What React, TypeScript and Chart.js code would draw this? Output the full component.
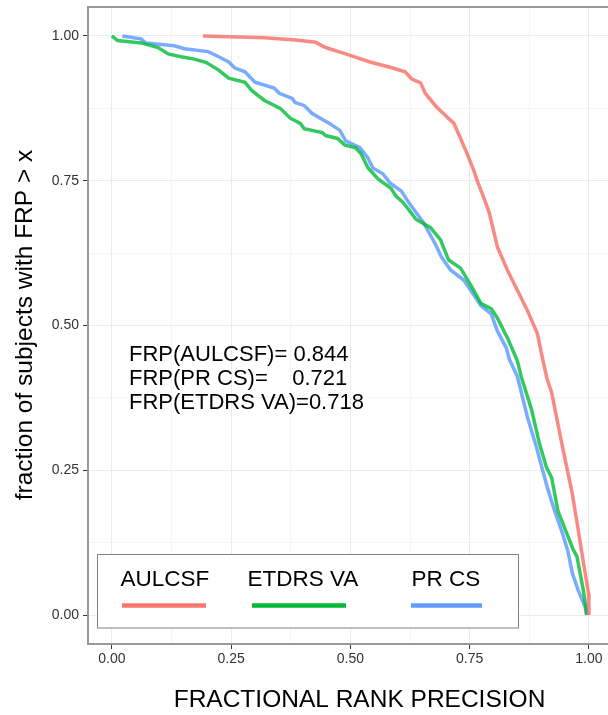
import React, { useEffect, useRef } from 'react';
import { Chart, registerables } from 'chart.js';

Chart.register(...registerables);

const FONT = "'Liberation Sans', Arial, Helvetica, sans-serif";

const seriesNames = ['AULCSF', 'ETDRS VA', 'PR CS'];
const legendColors = ['#F8766D', '#00BA38', '#619CFF'];
const lineColors = ['rgba(248,118,109,0.85)', 'rgba(0,186,56,0.8)', 'rgba(97,156,255,0.85)'];

const aulcsfX = [0.191, 0.32, 0.385, 0.427, 0.448, 0.49, 0.541, 0.583, 0.615, 0.628, 0.647, 0.657, 0.681, 0.695, 0.717, 0.733, 0.744, 0.759, 0.765, 0.78, 0.791, 0.808, 0.829, 0.85, 0.871, 0.892, 0.903, 0.912, 0.922, 0.943, 0.965, 0.977, 0.988, 0.999, 1.0];
const aulcsfY = [1.0, 0.997, 0.993, 0.989, 0.98, 0.969, 0.955, 0.946, 0.938, 0.926, 0.919, 0.901, 0.877, 0.866, 0.849, 0.819, 0.798, 0.767, 0.752, 0.72, 0.695, 0.636, 0.596, 0.561, 0.526, 0.486, 0.442, 0.409, 0.384, 0.297, 0.21, 0.15, 0.093, 0.038, 0.0];

const etdrsX = [0.0, 0.012, 0.061, 0.097, 0.118, 0.145, 0.173, 0.198, 0.224, 0.245, 0.279, 0.293, 0.319, 0.353, 0.374, 0.395, 0.403, 0.441, 0.448, 0.473, 0.488, 0.511, 0.522, 0.537, 0.558, 0.585, 0.596, 0.611, 0.638, 0.668, 0.689, 0.706, 0.731, 0.755, 0.774, 0.795, 0.808, 0.829, 0.85, 0.858, 0.88, 0.896, 0.911, 0.922, 0.935, 0.954, 0.966, 0.975, 0.988, 0.996];
const etdrsY = [1.0, 0.992, 0.988, 0.98, 0.969, 0.964, 0.96, 0.954, 0.941, 0.927, 0.92, 0.906, 0.889, 0.875, 0.858, 0.849, 0.84, 0.833, 0.828, 0.823, 0.812, 0.807, 0.797, 0.772, 0.753, 0.737, 0.723, 0.712, 0.683, 0.669, 0.648, 0.613, 0.599, 0.566, 0.538, 0.529, 0.513, 0.479, 0.439, 0.412, 0.354, 0.297, 0.255, 0.237, 0.18, 0.14, 0.115, 0.101, 0.044, 0.0];

const prcsX = [0.022, 0.061, 0.071, 0.131, 0.152, 0.202, 0.224, 0.245, 0.257, 0.279, 0.3, 0.34, 0.351, 0.378, 0.384, 0.403, 0.42, 0.456, 0.478, 0.49, 0.52, 0.537, 0.547, 0.568, 0.583, 0.607, 0.621, 0.628, 0.653, 0.679, 0.691, 0.71, 0.738, 0.774, 0.795, 0.808, 0.827, 0.833, 0.85, 0.871, 0.89, 0.903, 0.913, 0.928, 0.943, 0.956, 0.965, 0.977, 0.992, 0.995];
const prcsY = [1.0, 0.995, 0.988, 0.983, 0.978, 0.973, 0.964, 0.955, 0.945, 0.938, 0.92, 0.91, 0.901, 0.892, 0.885, 0.88, 0.866, 0.849, 0.837, 0.819, 0.807, 0.789, 0.772, 0.762, 0.746, 0.732, 0.714, 0.706, 0.678, 0.639, 0.618, 0.596, 0.578, 0.534, 0.52, 0.491, 0.461, 0.442, 0.412, 0.342, 0.29, 0.25, 0.22, 0.18, 0.145, 0.11, 0.073, 0.044, 0.014, 0.0];

const gridValues = [0, 0.125, 0.25, 0.375, 0.5, 0.625, 0.75, 0.875, 1.0];
const annotationLines = ['FRP(AULCSF)= 0.844', 'FRP(PR CS)=    0.721', 'FRP(ETDRS VA)=0.718'];
const xTitle = 'FRACTIONAL RANK PRECISION';
const yTitle = 'fraction of subjects with FRP > x';

const isMajor = (v: number) => Math.abs(v * 4 - Math.round(v * 4)) < 1e-6;
const zip = (xs: number[], ys: number[]) => xs.map((x, i) => ({ x, y: ys[i] }));

const decorPlugin = {
  id: 'decor',
  afterDraw(chart: any) {
    const ctx = chart.ctx as CanvasRenderingContext2D;
    const a = chart.chartArea;
    ctx.save();
    // panel frame
    ctx.strokeStyle = '#999999';
    ctx.lineWidth = 2;
    ctx.beginPath();
    ctx.moveTo(a.right + 2, a.top);
    ctx.lineTo(a.left, a.top);
    ctx.lineTo(a.left, a.bottom);
    ctx.lineTo(a.right + 2, a.bottom);
    ctx.stroke();

    // annotation
    ctx.fillStyle = '#000';
    ctx.font = `22px ${FONT}`;
    ctx.textAlign = 'left';
    ctx.textBaseline = 'alphabetic';
    const baselines = [361, 385, 409];
    annotationLines.forEach((t, i) => ctx.fillText(t, 129, baselines[i]));

    // legend box
    ctx.fillStyle = '#fff';
    ctx.fillRect(97.5, 554.5, 421, 73.5);
    ctx.strokeStyle = '#808080';
    ctx.lineWidth = 1;
    ctx.strokeRect(97.5, 554.5, 421, 73.5);
    const labelX = [120.5, 247.5, 411.5];
    const lineX = [[122, 206], [252, 346], [411, 482]];
    ctx.font = `22.5px ${FONT}`;
    ctx.fillStyle = '#000';
    seriesNames.forEach((n, i) => {
      ctx.fillText(n, labelX[i], 586);
      ctx.strokeStyle = legendColors[i];
      ctx.lineWidth = 4.5;
      ctx.lineCap = 'butt';
      ctx.beginPath();
      ctx.moveTo(lineX[i][0], 605.5);
      ctx.lineTo(lineX[i][1], 605.5);
      ctx.stroke();
    });

    // axis titles
    ctx.fillStyle = '#000';
    ctx.font = `24.5px ${FONT}`;
    ctx.textAlign = 'center';
    ctx.fillText(xTitle, 359.5, 707);
    ctx.save();
    ctx.translate(32, 325);
    ctx.rotate(-Math.PI / 2);
    ctx.font = `24.5px ${FONT}`;
    ctx.fillText(yTitle, 0, 0);
    ctx.restore();
    ctx.restore();
  },
};

export default function App() {
  const ref = useRef<HTMLCanvasElement>(null);
  useEffect(() => {
    if (!ref.current) return;
    const gridColor = (c: any) => (isMajor(c.tick.value) ? '#EBEBEB' : '#F5F5F5');
    const tickColor = (c: any) => (isMajor(c.tick.value) ? '#333333' : 'rgba(0,0,0,0)');
    const tickCb = (v: any) => (isMajor(Number(v)) ? Number(v).toFixed(2) : '');
    const chart = new Chart(ref.current, {
      type: 'line',
      data: {
        datasets: [
          { label: seriesNames[0], data: zip(aulcsfX, aulcsfY), borderColor: lineColors[0], borderWidth: 3.5, pointRadius: 0, tension: 0 },
          { label: seriesNames[1], data: zip(etdrsX, etdrsY), borderColor: lineColors[1], borderWidth: 3.5, pointRadius: 0, tension: 0 },
          { label: seriesNames[2], data: zip(prcsX, prcsY), borderColor: lineColors[2], borderWidth: 3.5, pointRadius: 0, tension: 0 },
        ],
      },
      options: {
        animation: false,
        responsive: false,
        devicePixelRatio: 1,
        layout: { padding: { top: 7, left: 0, right: 0, bottom: 0 } },
        plugins: { legend: { display: false }, tooltip: { enabled: false } },
        scales: {
          x: {
            type: 'linear',
            min: -0.05,
            max: 1.04,
            afterBuildTicks: (s: any) => { s.ticks = gridValues.map((value) => ({ value })); },
            afterFit: (s: any) => { s.height = 71; s.paddingLeft = 0; s.paddingRight = 0; },
            grid: { color: gridColor, lineWidth: 1, tickColor, tickLength: 5, drawTicks: true },
            border: { display: false },
            ticks: { callback: tickCb, font: { family: FONT, size: 14 }, color: '#333', padding: 2, maxRotation: 0, autoSkip: false },
          },
          y: {
            type: 'linear',
            min: -0.05,
            max: 1.05,
            afterBuildTicks: (s: any) => { s.ticks = gridValues.map((value) => ({ value })); },
            afterFit: (s: any) => { s.width = 88; s.paddingTop = 0; s.paddingBottom = 0; },
            grid: { color: gridColor, lineWidth: 1, tickColor, tickLength: 5, drawTicks: true },
            border: { display: false },
            ticks: { callback: tickCb, font: { family: FONT, size: 14 }, color: '#333', padding: 4, autoSkip: false },
          },
        },
      } as any,
      plugins: [decorPlugin],
    });
    return () => chart.destroy();
  }, []);
  return (
    <div style={{ position: 'fixed', left: 0, top: 0, width: 608, height: 715, background: '#fff' }}>
      <canvas ref={ref} width={608} height={715} style={{ width: 608, height: 715, display: 'block' }} />
    </div>
  );
}
